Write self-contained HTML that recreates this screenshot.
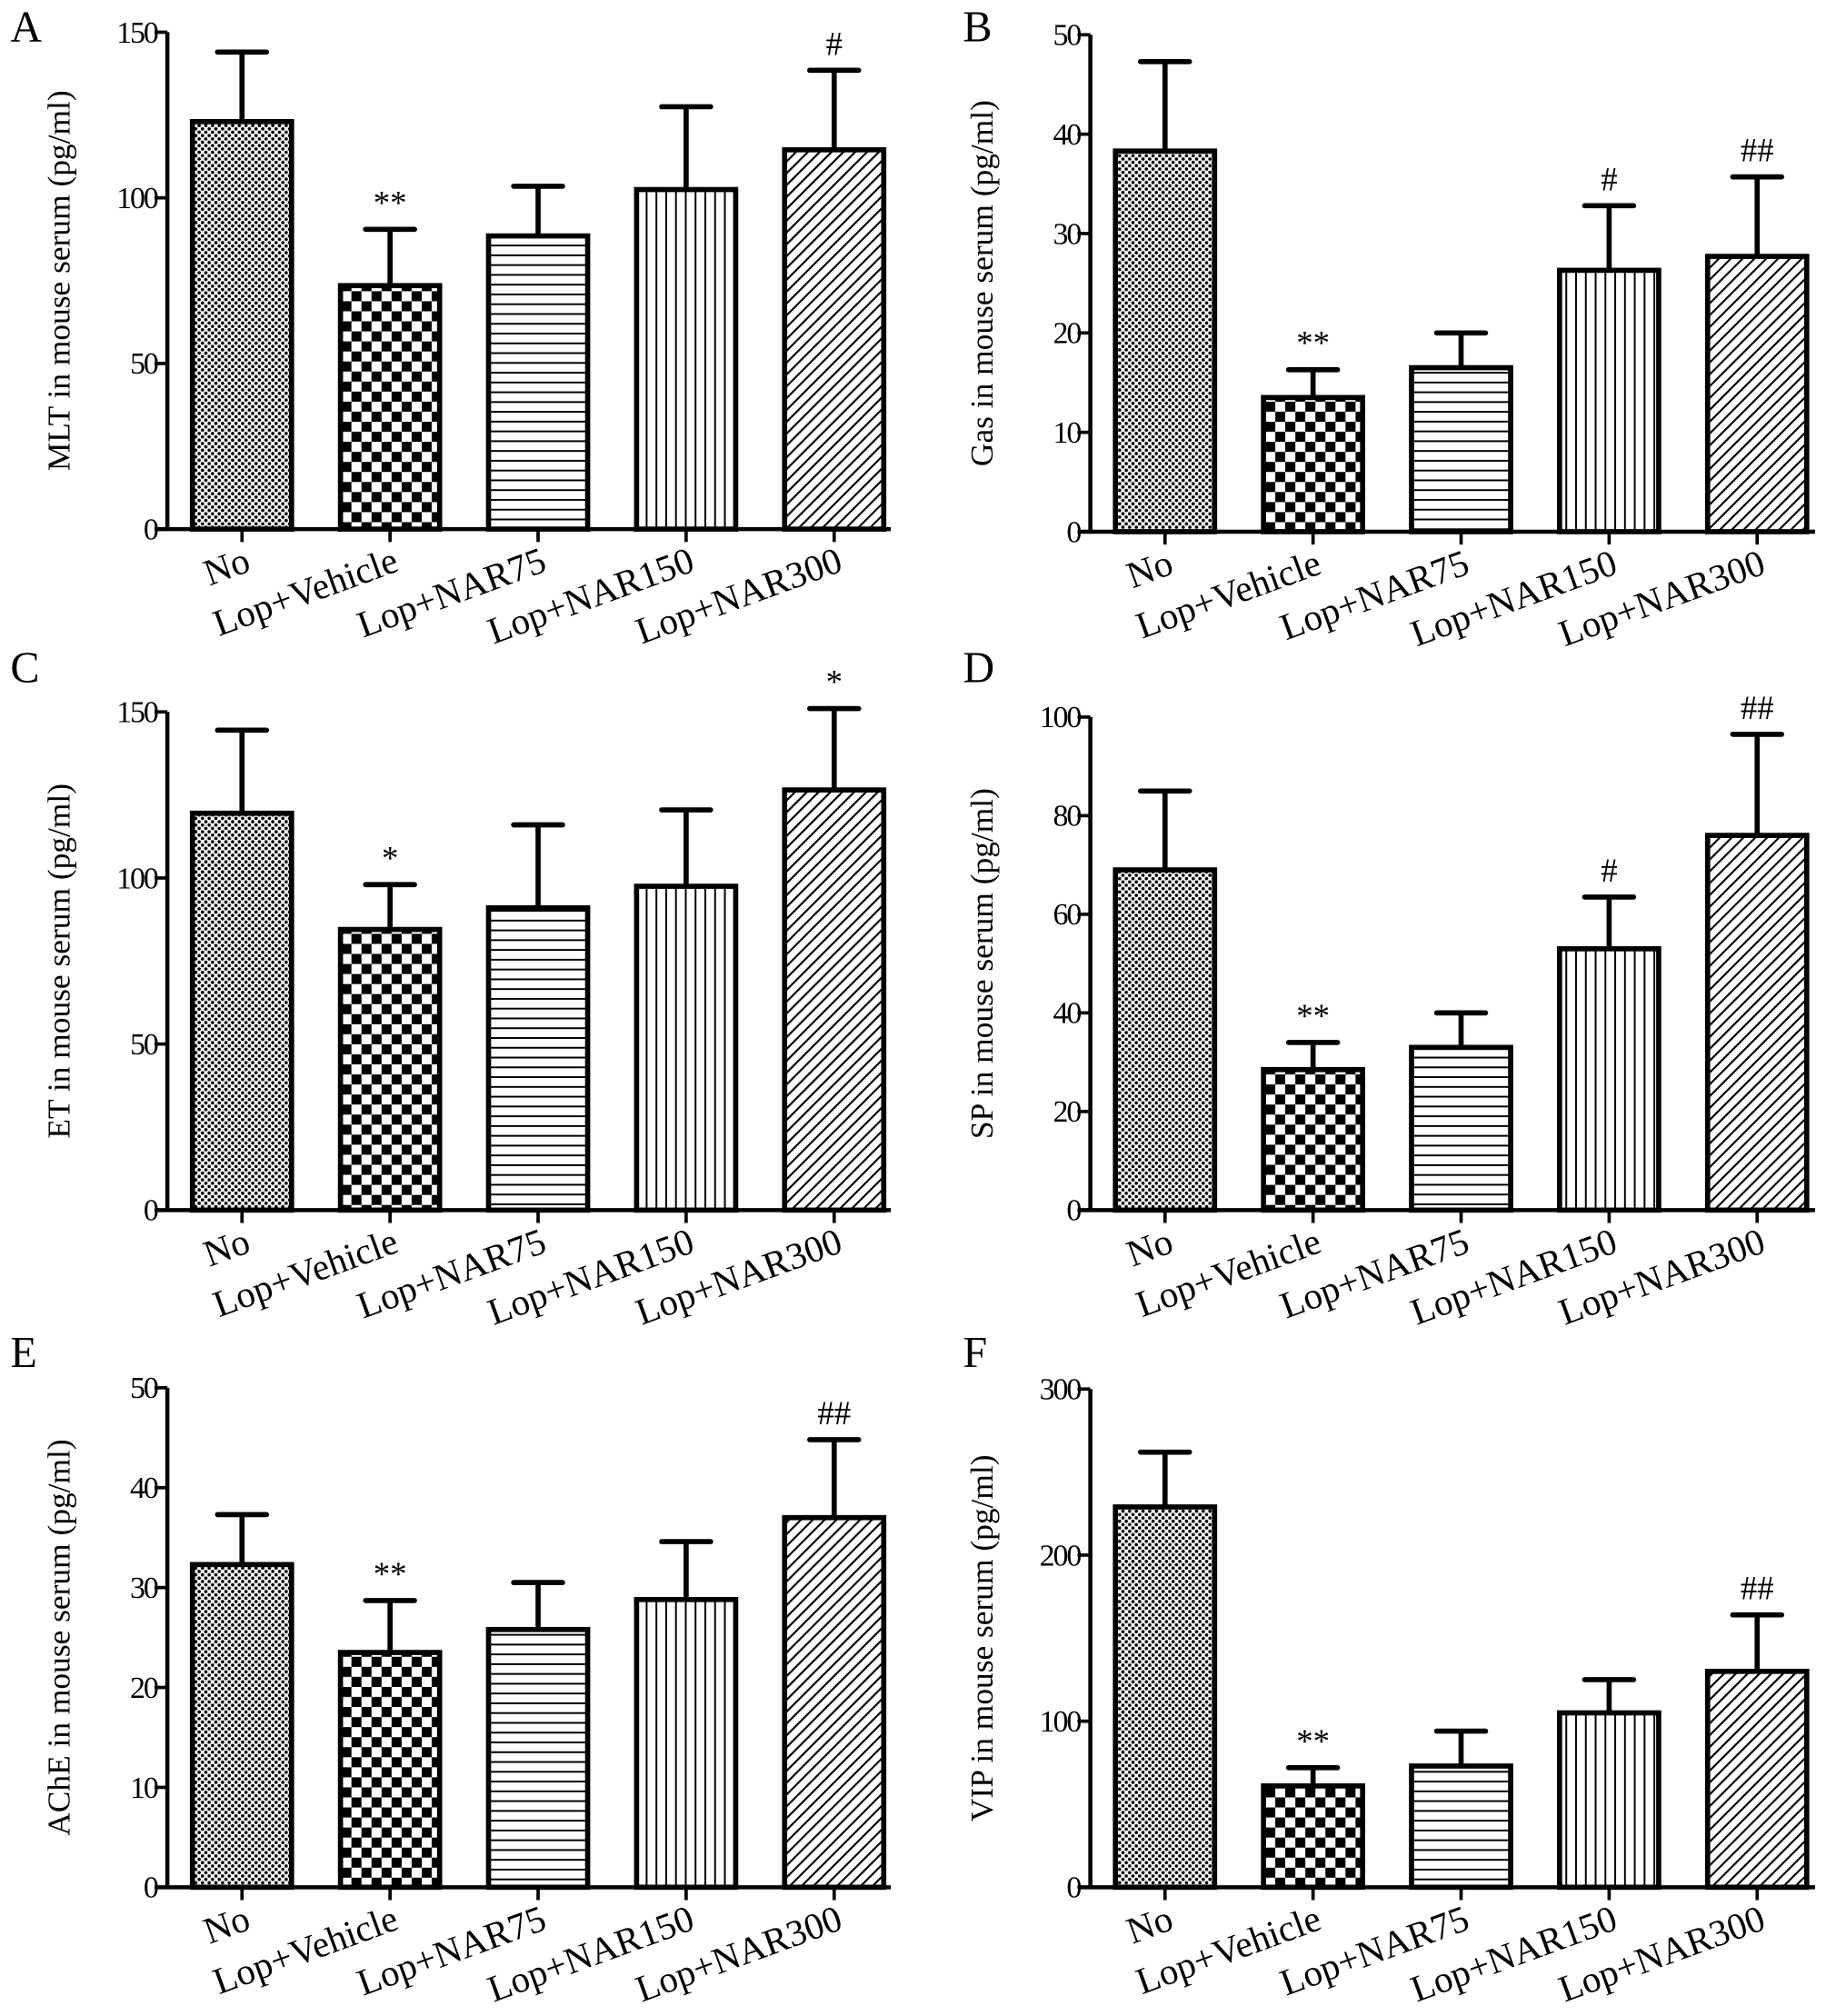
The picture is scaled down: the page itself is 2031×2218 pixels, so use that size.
<!DOCTYPE html>
<html><head><meta charset="utf-8"><style>
html,body{margin:0;padding:0;background:#fff}
svg{display:block}
text{font-family:"Liberation Serif",serif;fill:#000}
</style></head><body>
<svg id="fig" xmlns="http://www.w3.org/2000/svg" width="2031" height="2218" viewBox="0 0 1434 1566">
<defs>
<pattern id="p0" patternUnits="userSpaceOnUse" width="5.2" height="5.2"><rect width="5.2" height="5.2" fill="#fff"/><circle cx="1.3" cy="1.3" r="1.3" fill="#000"/><circle cx="3.9" cy="3.9" r="1.3" fill="#000"/></pattern>
<pattern id="p1" patternUnits="userSpaceOnUse" width="15.6" height="15.6"><rect width="15.6" height="15.6" fill="#fff"/><rect width="7.8" height="7.8" fill="#000"/><rect x="7.8" y="7.8" width="7.8" height="7.8" fill="#000"/></pattern>
<pattern id="p2" patternUnits="userSpaceOnUse" width="8" height="7.6"><rect width="8" height="7.6" fill="#fff"/><rect y="0" width="8" height="1.4" fill="#000"/></pattern>
<pattern id="p3" patternUnits="userSpaceOnUse" width="7.6" height="8"><rect width="7.6" height="8" fill="#fff"/><rect x="0" width="1.4" height="8" fill="#000"/></pattern>
<pattern id="p4" patternUnits="userSpaceOnUse" width="6.5" height="6.5" patternTransform="rotate(45)"><rect width="6.5" height="6.5" fill="#fff"/><rect width="1.5" height="6.5" fill="#000"/></pattern>
</defs>
<g id="root"></g>
</svg>
<script>
const categories = ["No","Lop+Vehicle","Lop+NAR75","Lop+NAR150","Lop+NAR300"];
const valuesA = [123, 73.5, 88.5, 102.5, 114.5];
const errorsA = [21, 17, 15, 25, 24];
const valuesB = [38.3, 13.5, 16.5, 26.3, 27.7];
const errorsB = [9, 2.8, 3.5, 6.5, 8];
const valuesC = [119.5, 84.5, 91, 97.5, 126.5];
const errorsC = [25, 13.5, 25, 23, 24.5];
const valuesD = [69, 28.5, 33, 53, 76];
const errorsD = [16, 5.5, 7, 10.5, 20.5];
const valuesE = [32.3, 23.5, 25.8, 28.8, 37];
const errorsE = [5, 5.2, 4.7, 5.8, 7.8];
const valuesF = [229, 61, 73, 105, 130];
const errorsF = [33, 11, 21, 20, 34];
const ticksA = [0,50,100,150];
const ticksB = [0,10,20,30,40,50];
const ticksC = [0,50,100,150];
const ticksD = [0,20,40,60,80,100];
const ticksE = [0,10,20,30,40,50];
const ticksF = [0,100,200,300];
const annotA = ["","**","","","#"];
const annotB = ["","**","","#","##"];
const annotC = ["","*","","","*"];
const annotD = ["","**","","#","##"];
const annotE = ["","**","","","##"];
const annotF = ["","**","","","##"];
const titles = ["MLT in mouse serum (pg/ml)","Gas in mouse serum (pg/ml)","ET in mouse serum (pg/ml)","SP in mouse serum (pg/ml)","AChE in mouse serum (pg/ml)","VIP in mouse serum (pg/ml)"];
const letters = ["A","B","C","D","E","F"];

const NS="http://www.w3.org/2000/svg";
const root=document.getElementById('root');
function mk(tag,attrs,parent){const e=document.createElementNS(NS,tag);for(const k in attrs)e.setAttribute(k,attrs[k]);(parent||root).appendChild(e);return e;}

const layouts=[
 {ax:130,y0:411,y1:25,xend:692,lx:8,ly:32},
 {ax:847,y0:413,y1:27,xend:1410,lx:748,ly:32},
 {ax:130,y0:940,y1:553,xend:692,lx:8,ly:530},
 {ax:847,y0:940,y1:557,xend:1410,lx:748,ly:530},
 {ax:130,y0:1466,y1:1078,xend:692,lx:8,ly:1062},
 {ax:847,y0:1466,y1:1079,xend:1410,lx:748,ly:1062}
];
const data=[[valuesA,errorsA,ticksA,annotA],[valuesB,errorsB,ticksB,annotB],[valuesC,errorsC,ticksC,annotC],[valuesD,errorsD,ticksD,annotD],[valuesE,errorsE,ticksE,annotE],[valuesF,errorsF,ticksF,annotF]];

data.forEach((d,pi)=>{
  const [vals,errs,ticks,ann]=d; const L=layouts[pi];
  const g=mk('g',{});
  
  
  const maxT=ticks[ticks.length-1];
  const yS=v=>L.y0-(v/maxT)*(L.y0-L.y1);
  const step=115;
  const xC=i=>L.ax+58+step*i;
  const bw=77;
  const lt=mk('text',{x:L.lx,y:L.ly,'font-size':34},g); lt.textContent=letters[pi];
  
  
  vals.forEach((v,i)=>{
    const top=yS(v+errs[i]);
    const eb=mk('line',{x1:xC(i),x2:xC(i),y1:yS(v),y2:top,stroke:'#000','stroke-width':4},g);
    
    
    const cap=mk('line',{x1:xC(i)-19,x2:xC(i)+19,y1:top,y2:top,stroke:'#000','stroke-width':4,'stroke-linecap':'round'},g);
    
    
    const r=mk('rect',{x:xC(i)-bw/2,y:yS(v),width:bw,height:L.y0-yS(v),fill:'url(#p'+i+')',stroke:'#000','stroke-width':4},g);
    
    
    if(ann[i]){const t=mk('text',{x:xC(i),y:top-12,'font-size':26,'text-anchor':'middle',fill:'#333'},g);t.textContent=ann[i];
      
      }
    const tk=mk('line',{x1:xC(i),x2:xC(i),y1:L.y0,y2:L.y0+10,stroke:'#000','stroke-width':2.6},g);
    
    
    const tx=xC(i)+8, ty=L.y0+32;
    const xl=mk('text',{x:tx,y:ty,'font-size':29,'text-anchor':'end',transform:'rotate(-20 '+tx+' '+ty+')'},g);
    xl.textContent=categories[i];
    
    
  });
  const ya=mk('line',{x1:L.ax,x2:L.ax,y1:L.y1,y2:L.y0+1.5,stroke:'#000','stroke-width':3.2},g);
  
  
  const xa=mk('line',{x1:L.ax-8,x2:L.xend,y1:L.y0,y2:L.y0,stroke:'#000','stroke-width':3.2},g);
  
  
  ticks.forEach(t=>{
    const tl=mk('line',{x1:L.ax-10,x2:L.ax,y1:yS(t),y2:yS(t),stroke:'#000','stroke-width':2.6},g);
    
    
    const tt=mk('text',{x:L.ax-8,y:yS(t)+8,'font-size':24,'text-anchor':'end','letter-spacing':'-1.5'},g);
    tt.textContent=t;
    
    
  });
  const my=(L.y0+L.y1)/2, mx=L.ax-76;
  const yt=mk('text',{x:mx,y:my,'font-size':25,'text-anchor':'middle',transform:'rotate(-90 '+mx+' '+my+')'},g);
  yt.textContent=titles[pi];
  
  
});
</script>
</body></html>
